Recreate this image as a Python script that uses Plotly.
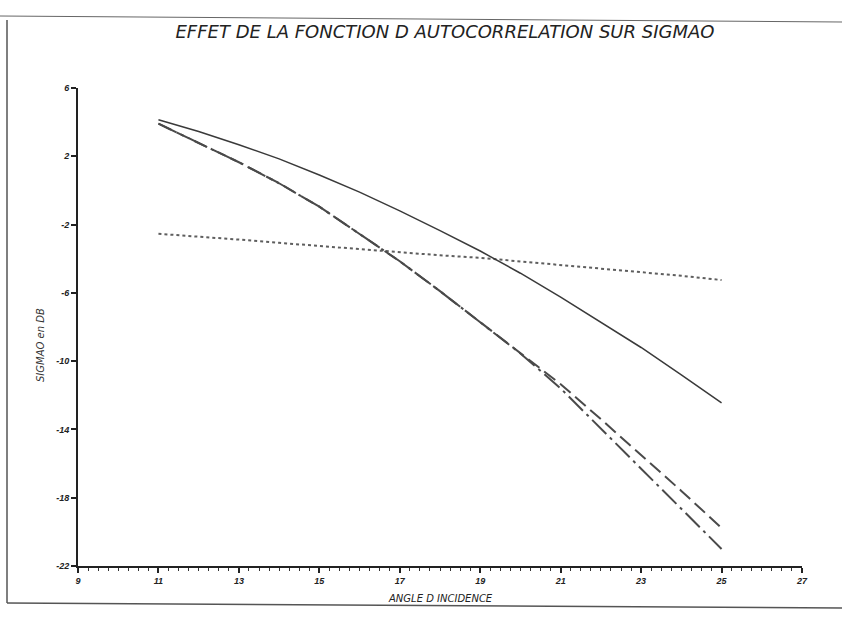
import plotly.graph_objects as go

# Data
angles = [11, 12, 13, 14, 15, 16, 17, 18, 19, 20, 21, 22, 23, 24, 25]
sigma_solid = [4.14, 3.45, 2.68, 1.85, 0.9, -0.1, -1.2, -2.35, -3.55, -4.85, -6.25, -7.7, -9.2, -10.8, -12.45]
sigma_dotted = [-2.54, -2.7, -2.88, -3.07, -3.26, -3.45, -3.6, -3.8, -3.95, -4.15, -4.35, -4.58, -4.79, -5.0, -5.25]
sigma_dash = [3.91, 2.8, 1.65, 0.42, -0.95, -2.55, -4.15, -5.9, -7.7, -9.5, -11.35, -13.4, -15.5, -17.6, -19.77]
sigma_dashdot = [3.91, 2.8, 1.65, 0.42, -0.95, -2.55, -4.15, -5.9, -7.7, -9.55, -11.6, -13.95, -16.3, -18.65, -21.0]

x_ticks = [9, 11, 13, 15, 17, 19, 21, 23, 25, 27]
y_ticks = [6, 2, -2, -6, -10, -14, -18, -22]

title_text = "EFFET DE LA FONCTION D AUTOCORRELATION SUR SIGMAO"
x_title = "ANGLE D INCIDENCE"
y_title = "SIGMAO en DB"

fig = go.Figure()
fig.add_trace(go.Scatter(x=angles, y=sigma_dotted, mode="lines",
                         line=dict(color="#5e5e5e", width=2, dash="3px,3px"), showlegend=False))
fig.add_trace(go.Scatter(x=angles, y=sigma_dashdot, mode="lines",
                         line=dict(color="#4a4a4a", width=2, dash="20px,5px,3px,5px"), showlegend=False))
fig.add_trace(go.Scatter(x=angles, y=sigma_dash, mode="lines",
                         line=dict(color="#4a4a4a", width=2, dash="14px,6px"), showlegend=False))
fig.add_trace(go.Scatter(x=angles, y=sigma_solid, mode="lines",
                         line=dict(color="#3a3a3a", width=1.5), showlegend=False))

tick_font = dict(family="Liberation Sans Narrow, Liberation Sans, sans-serif", size=9,
                 color="#222", weight="bold", style="italic")

fig.update_xaxes(range=[9, 27], tickvals=x_ticks, ticktext=[str(v) for v in x_ticks],
                 showgrid=False, zeroline=False, showline=True, linecolor="#222", linewidth=2,
                 ticks="outside", ticklen=5, tickwidth=1.5, tickcolor="#222",
                 minor=dict(dtick=0.25, ticks="outside", ticklen=3, tickcolor="#333", tickwidth=1),
                 tickfont=tick_font)
fig.update_yaxes(range=[-22, 6], tickvals=y_ticks, ticktext=[str(v) for v in y_ticks],
                 showgrid=False, zeroline=False, showline=True, linecolor="#222", linewidth=2,
                 ticks="outside", ticklen=5, tickwidth=1.5, tickcolor="#222",
                 tickfont=tick_font)

L, R, T, B = 78, 40, 88, 54
pw, ph = 842 - L - R, 620 - T - B

def px(xp):
    return (xp - L) / pw

def py(yp):
    return (620 - B - yp) / ph

fig.add_annotation(text=x_title, x=px(440), y=py(598), xref="paper", yref="paper",
                   xanchor="center", yanchor="middle", showarrow=False,
                   font=dict(family="DejaVu Sans, sans-serif", size=10, color="#222", style="italic"))
fig.add_annotation(text=y_title, x=px(40), y=py(345), xref="paper", yref="paper",
                   xanchor="center", yanchor="middle", textangle=-90, showarrow=False,
                   font=dict(family="DejaVu Sans, sans-serif", size=10, color="#333", style="italic"))

# scanned page frame
frame = dict(color="#555", width=1.5)
fig.add_shape(type="line", xref="paper", yref="paper", x0=px(7), x1=px(7), y0=py(20), y1=py(603), line=frame)
fig.add_shape(type="line", xref="paper", yref="paper", x0=px(7), x1=px(842), y0=py(603), y1=py(608), line=frame)
fig.add_shape(type="line", xref="paper", yref="paper", x0=px(0), x1=px(842), y0=py(16), y1=py(22),
              line=dict(color="#666", width=1))

fig.update_layout(
    width=842, height=620,
    margin=dict(l=L, r=R, t=T, b=B),
    paper_bgcolor="white", plot_bgcolor="white",
    title=dict(text=title_text, x=445 / 842, xanchor="center", y=1 - 32 / 620, yanchor="middle",
               font=dict(family="DejaVu Sans, sans-serif", size=18, color="#222", style="italic")),
)

fig.write_html("out.html")
